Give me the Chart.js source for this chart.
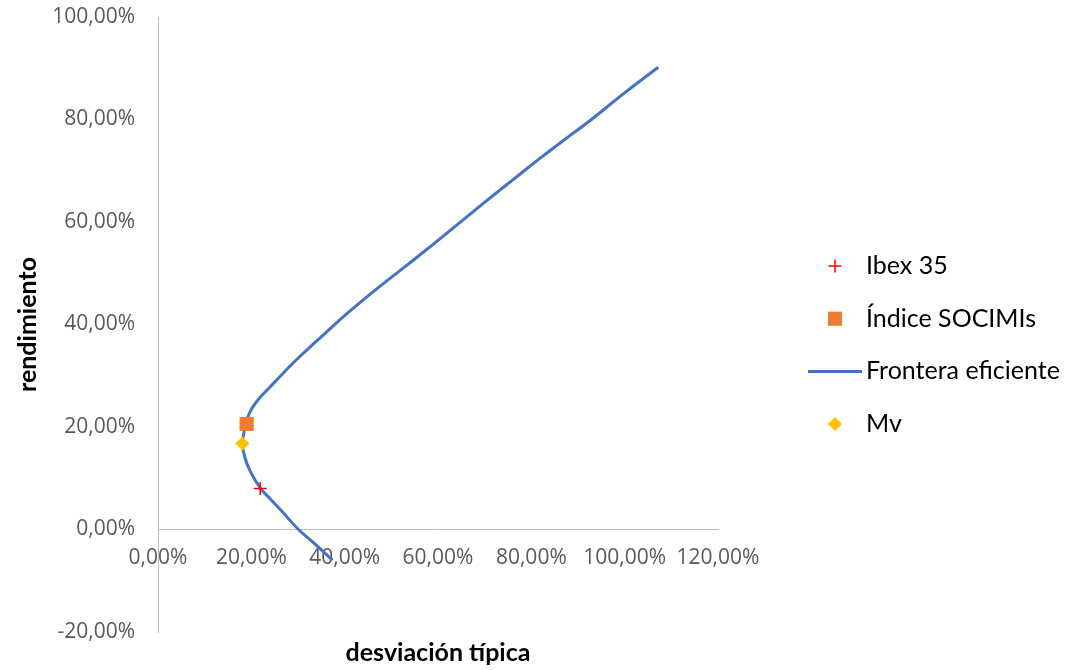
<!DOCTYPE html>
<html lang="es">
<head>
<meta charset="utf-8">
<title>Frontera eficiente</title>
<script src="https://cdn.jsdelivr.net/npm/chart.js@4.4.1/dist/chart.umd.min.js"></script>
<style>
  html, body { margin: 0; padding: 0; background: #fff; }
  #grafico { display: block; }
</style>
</head>
<body>
<canvas id="grafico" width="1071" height="670"></canvas>
<script>
// Datos (en %)
const fronteraRiesgo = [37.4, 33.6, 30.1, 26.7, 23.7, 21.9, 19.7, 18.6, 18.1, 18.5, 19.0, 20.1, 21.9, 24.0, 26.0, 28.4, 30.8, 33.3, 36.2, 39.2, 42.8, 46.4, 52.4, 56.7, 60.8, 65.9, 71.3, 76.7, 82.1, 87.3, 92.6, 99.7, 107.2];
const fronteraRend = [-6.0, -2.8, 0.0, 3.4, 6.3, 8.1, 11.5, 14.1, 16.7, 19.3, 21.3, 23.6, 25.8, 27.8, 29.7, 32.0, 34.1, 36.2, 38.6, 41.1, 43.9, 46.6, 50.9, 54.0, 57.0, 60.8, 64.8, 68.7, 72.6, 76.2, 79.8, 85.0, 90.2];

const ibexRiesgo = [21.9];
const ibexRend = [8.0];
const socimiRiesgo = [19.0];
const socimiRend = [20.6];
const mvRiesgo = [18.1];
const mvRend = [16.8];

const etiquetas = ['Ibex 35', 'Índice SOCIMIs', 'Frontera eficiente', 'Mv'];
const tituloX = 'desviación típica';
const tituloY = 'rendimiento';

// Formato de los ejes: 20,00%
function formatoPct(v) {
    return v.toFixed(2).replace('.', ',') + '%';
}

function puntos(xs, ys) {
    return xs.map((x, i) => ({ x: x, y: ys[i] }));
}

// Leyenda dibujada a mano a la derecha
const leyenda = {
    id: 'leyenda',
    afterDraw(chart) {
        const ctx = chart.ctx;
        const xMarca = 835;
        const xTexto = 866;
        const yInicio = 266;
        const paso = 52.7;
        ctx.save();
        ctx.font = '25px Lato';
        ctx.textBaseline = 'middle';
        chart.data.datasets.forEach((ds, i) => {
            const y = yInicio + i * paso;
            if (ds.showLine) {
                ctx.strokeStyle = ds.borderColor;
                ctx.lineWidth = ds.borderWidth;
                ctx.beginPath();
                ctx.moveTo(808, y);
                ctx.lineTo(862, y);
                ctx.stroke();
            } else {
                ctx.fillStyle = ds.backgroundColor;
                ctx.strokeStyle = ds.borderColor;
                ctx.lineWidth = ds.borderWidth;
                Chart.helpers.drawPoint(ctx, {
                    pointStyle: ds.pointStyle,
                    radius: ds.pointRadius,
                    borderWidth: ds.borderWidth,
                    rotation: 0
                }, xMarca, y);
            }
            ctx.fillStyle = '#000';
            ctx.fillText(ds.label, xTexto, y);
        });
        ctx.restore();
    }
};

const ctx = document.getElementById('grafico').getContext('2d');

const grafico = new Chart(ctx, {
    type: 'scatter',
    data: {
        datasets: [{
            label: etiquetas[0],
            data: puntos(ibexRiesgo, ibexRend),
            pointStyle: 'cross',
            pointRadius: 6.5,
            borderColor: '#FF0000',
            backgroundColor: '#FF0000',
            borderWidth: 1.5,
            order: 0
        }, {
            label: etiquetas[1],
            data: puntos(socimiRiesgo, socimiRend),
            pointStyle: 'rect',
            pointRadius: 10,
            borderColor: '#ED7D31',
            backgroundColor: '#ED7D31',
            borderWidth: 0,
            order: 0
        }, {
            label: etiquetas[2],
            data: puntos(fronteraRiesgo, fronteraRend),
            showLine: true,
            pointRadius: 0,
            borderColor: '#4472C4',
            backgroundColor: '#4472C4',
            borderWidth: 3,
            tension: 0.4,
            order: 1
        }, {
            label: etiquetas[3],
            data: puntos(mvRiesgo, mvRend),
            pointStyle: 'rectRot',
            pointRadius: 7,
            borderColor: '#FFC000',
            backgroundColor: '#FFC000',
            borderWidth: 0,
            order: 0
        }]
    },
    options: {
        responsive: false,
        animation: false,
        devicePixelRatio: 1,
        layout: {
            padding: { top: 17, right: 353, bottom: 0, left: 0 }
        },
        plugins: {
            legend: { display: false },
            tooltip: { enabled: false }
        },
        scales: {
            x: {
                type: 'linear',
                position: { y: 0 },
                min: 0,
                max: 120,
                grid: { display: false, drawTicks: false, tickLength: 0 },
                border: { display: true, color: '#BFBFBF', width: 1 },
                ticks: {
                    stepSize: 20,
                    padding: 16,
                    color: '#595959',
                    font: { family: 'Open Sans', size: 21 },
                    maxRotation: 0,
                    callback: (v) => formatoPct(v)
                }
            },
            xTitulo: {
                type: 'linear',
                position: 'bottom',
                grid: { display: false, drawTicks: false },
                border: { display: false },
                ticks: { display: false },
                title: {
                    display: true,
                    text: tituloX,
                    color: '#000',
                    font: { family: 'Lato', size: 25, weight: 'bold' },
                    padding: { top: 0, bottom: 2 }
                },
                afterFit: (scale) => { scale.height = 38; }
            },
            y: {
                type: 'linear',
                position: 'left',
                min: -20,
                max: 100,
                // marcas invisibles: solo separan las etiquetas del eje
                grid: { display: true, drawOnChartArea: false, drawTicks: true, tickLength: 23, color: 'rgba(0,0,0,0)' },
                border: { display: true, color: '#BFBFBF', width: 1 },
                ticks: {
                    stepSize: 20,
                    padding: 0,
                    color: '#595959',
                    font: { family: 'Open Sans', size: 21 },
                    callback: (v) => formatoPct(v)
                },
                title: {
                    display: true,
                    text: tituloY,
                    color: '#000',
                    font: { family: 'Lato', size: 25, weight: 'bold' },
                    padding: { top: 13, bottom: 0 }
                },
                afterFit: (scale) => { scale.width = 158; }
            }
        }
    },
    plugins: [leyenda]
});
</script>
</body>
</html>
